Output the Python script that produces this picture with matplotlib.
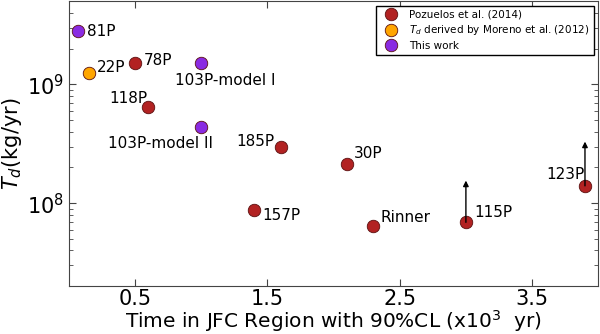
import matplotlib
matplotlib.use("Agg")
import matplotlib.pyplot as plt


# Pozuelos et al. (2014)
poz_names = ['78P', '118P', '185P', '30P', '157P', 'Rinner', '115P', '123P']
poz_time = [0.5, 0.6, 1.6, 2.1, 1.4, 2.3, 3.0, 3.9]
poz_td = [1.5e9, 6.45e8, 2.95e8, 2.13e8, 8.7e7, 6.4e7, 6.9e7, 1.4e8]

# Moreno et al. (2012)
mor_names = ['22P']
mor_time = [0.15]
mor_td = [1.24e9]

# this work
tw_names = ['81P', '103P-model I', '103P-model II']
tw_time = [0.07, 1.0, 1.0]
tw_td = [2.8e9, 1.5e9, 4.4e8]

# lower limits (arrow tips)
limit_names = ['115P', '123P']
limit_top = [1.55e8, 3.3e8]

# label offsets in points
offsets = {
    '81P': (6, 0), '22P': (6, 4), '78P': (6, 2), '118P': (-28, 6),
    '103P-model I': (-19, -12), '103P-model II': (-67, -12),
    '185P': (-32, 4), '30P': (5, 8), '157P': (6, -4), 'Rinner': (5, 6.5),
    '115P': (6, 7), '123P': (-28, 8.5),
}

red = '#b22222'
orange = '#ffa500'
purple = '#8a2be2'

fig = plt.figure(figsize=(6, 3.34), dpi=100)
ax = fig.add_axes([0.115, 0.143, 0.882, 0.853])

ms = 9
kw = dict(marker='o', linestyle='none', markersize=ms,
          markeredgecolor='#5a1010', markeredgewidth=0.6)
ax.plot(poz_time, poz_td, color=red, label='Pozuelos et al. (2014)', **kw)
ax.plot(mor_time, mor_td, color=orange,
        label=r'$T_d$ derived by Moreno et al. (2012)', **kw)
ax.plot(tw_time, tw_td, color=purple, label='This work', **kw)

# arrows for lower limits
for name, top in zip(limit_names, limit_top):
    i = poz_names.index(name)
    ax.annotate('', xy=(poz_time[i], top), xytext=(poz_time[i], poz_td[i]),
                arrowprops=dict(arrowstyle='-|>', color='black', lw=1,
                                mutation_scale=8, shrinkA=0, shrinkB=0))

for names, xs, ys in [(poz_names, poz_time, poz_td),
                      (mor_names, mor_time, mor_td),
                      (tw_names, tw_time, tw_td)]:
    for n, x, y in zip(names, xs, ys):
        ax.annotate(n, (x, y), xytext=offsets[n], textcoords='offset points',
                    fontsize=11, va='center', ha='left')

ax.set_yscale('log')
ax.set_xlim(0, 4.0)
ax.set_ylim(2e7, 5e9)
ax.set_xticks([0.5, 1.5, 2.5, 3.5])
ax.set_xticklabels(['0.5', '1.5', '2.5', '3.5'])
ax.tick_params(which='both', direction='in', top=True, right=True,
               labelsize=15, colors='#444444', labelcolor='black')
ax.tick_params(axis='x', pad=2)
ax.tick_params(which='major', length=5)
ax.tick_params(which='minor', length=3)
for s in ax.spines.values():
    s.set_color('#444444')

ax.set_xlabel(r'Time in JFC Region with 90%CL (x$10^3\ \ $yr)', fontsize=14.5,
              labelpad=-1)
ax.set_ylabel(r'$T_d$(kg/yr)', fontsize=15, labelpad=2)

ax.legend(loc='upper right', fontsize=7.5, numpoints=1, fancybox=False,
          edgecolor='black', framealpha=1, borderaxespad=0.4,
          handletextpad=0.8, labelspacing=0.35, markerscale=1.0)

fig.savefig('out.png', dpi=100)
